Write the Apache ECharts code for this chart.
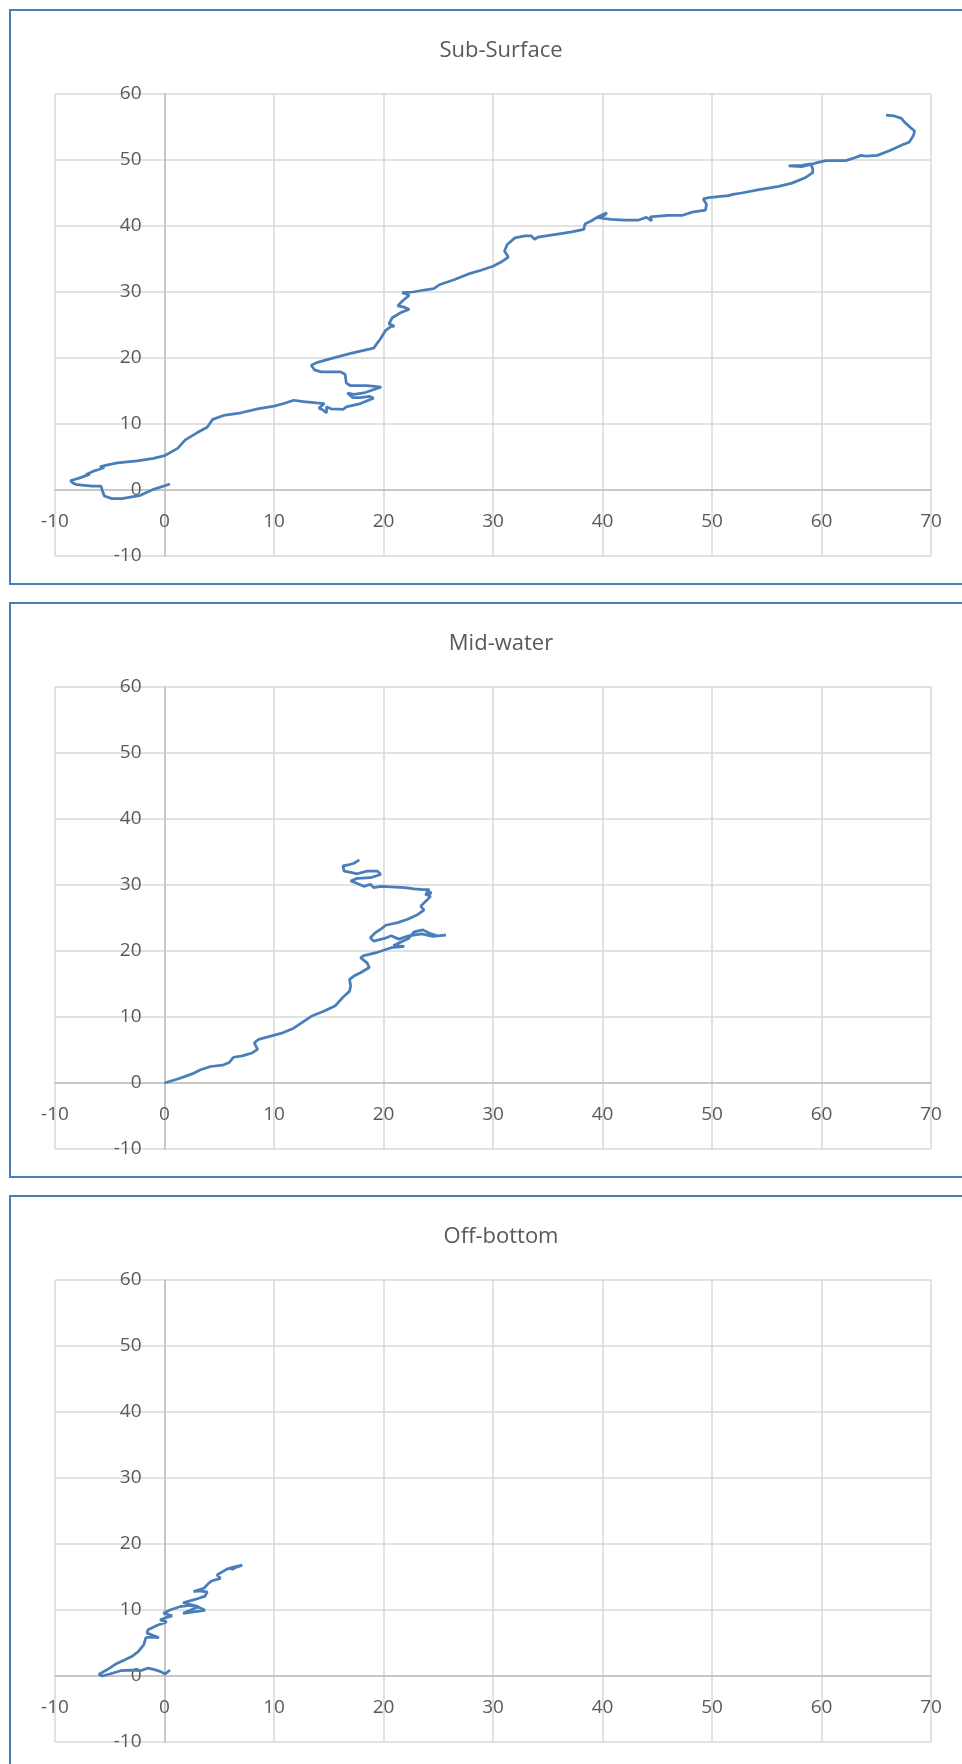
<!DOCTYPE html>
<html>
<head>
<meta charset="utf-8">
<script src="https://cdn.jsdelivr.net/npm/echarts@6/dist/echarts.min.js"></script>
<style>
  html, body { margin: 0; padding: 0; background: #fff; }
  #chart { width: 962px; height: 1764px; }
</style>
</head>
<body>
<div id="chart"></div>
<script>
// panel titles
const titles = ['Sub-Surface', 'Mid-water', 'Off-bottom']

// axis ranges (ticks every 10)
const xMin = -10, xMax = 70
const yMin = -10, yMax = 60
const tickStep = 10

// tracks, [x, y] in drawing order
const subSurface = [
  [0.5, 0.9], [-1, 0.1], [-2.2, -0.8], [-3.9, -1.3], [-4.8, -1.3], [-5.5, -0.9], [-5.7, 0], [-5.8, 0.6],
  [-6.6, 0.6], [-8, 0.8], [-8.3, 1.0], [-8.6, 1.4], [-7.8, 1.8], [-6.8, 2.4], [-7.2, 2.3], [-6.4, 2.9],
  [-6, 3.1], [-5.5, 3.4], [-5.9, 3.5], [-5.2, 3.8], [-4.3, 4.1], [-2.5, 4.4], [-1, 4.8], [0, 5.2],
  [1.2, 6.3], [1.9, 7.6], [3, 8.7], [3.9, 9.5], [4.4, 10.7], [5.4, 11.3], [7, 11.7], [8.5, 12.3],
  [10, 12.7], [10.9, 13.1], [11.8, 13.6], [12.7, 13.4], [13.9, 13.2], [14.6, 13.1], [14.1, 12.4],
  [14.4, 12.2], [14.8, 11.7], [14.8, 12.6], [15.2, 12.3], [16.3, 12.2], [16.6, 12.6], [17.9, 13.1],
  [18.8, 13.7], [19.1, 13.9], [18.7, 14.2], [17.9, 14.0], [17.2, 14.0], [16.7, 14.7], [17.3, 14.5],
  [18.2, 14.7], [19.8, 15.6], [18.5, 15.8], [17, 15.8], [16.6, 16.2], [16.5, 17.5], [16.1, 17.9],
  [15.2, 17.9], [14.3, 17.9], [13.7, 18.2], [13.4, 18.9], [13.9, 19.3], [15.2, 19.9], [17, 20.7],
  [19.1, 21.5], [19.76, 23.0], [20.2, 24.2], [20.7, 24.8], [21.0, 24.8], [20.5, 25.2], [20.8, 26.1],
  [21.6, 26.9], [22.35, 27.4], [21.9, 27.7], [21.3, 27.9], [21.7, 28.6], [22.35, 29.5], [21.9, 29.8],
  [21.7, 29.9], [22.7, 30.0], [23.7, 30.3], [24.6, 30.5], [25.1, 31.1], [26.5, 31.9], [27.7, 32.7],
  [28.9, 33.3], [30, 33.9], [30.7, 34.5], [31.4, 35.3], [31.05, 36.2], [31.3, 37.2], [32, 38.2],
  [32.9, 38.5], [33.5, 38.5], [33.8, 38.0], [34.1, 38.3], [35.6, 38.7], [37.2, 39.1], [38.3, 39.5],
  [38.4, 40.3], [39.0, 40.8], [39.6, 41.4], [40.4, 42.0], [40.1, 41.5], [39.5, 41.3], [40.25, 41.1],
  [40.8, 41.0], [42.0, 40.9], [43.3, 40.9], [44.0, 41.3], [44.5, 40.8], [44.35, 41.4], [46.0, 41.6],
  [47.25, 41.6], [48.2, 42.1], [49.4, 42.4], [49.5, 43.3], [49.2, 44.1], [49.7, 44.3], [51.5, 44.6],
  [51.9, 44.8], [52.7, 45.0], [54.3, 45.5], [56.1, 46.0], [57.3, 46.5], [58.5, 47.3], [59.2, 48.1],
  [59.2, 48.7], [59.0, 49.4], [58.2, 49.2], [57.0, 49.1], [58.2, 49.0], [59.2, 49.4], [59.6, 49.6],
  [60.4, 49.9], [61.3, 49.9], [62.2, 49.9], [62.8, 50.2], [63.6, 50.7], [64.05, 50.6], [65.1, 50.7],
  [66.2, 51.4], [67.4, 52.3], [68.0, 52.7], [68.4, 53.7], [68.5, 54.4], [68.0, 55.1], [67.6, 55.7],
  [67.3, 56.3], [66.6, 56.7], [65.9, 56.8]
]

const midWater = [
  [0, 0], [0.1, 0.1], [1.2, 0.6], [1.9, 1.0], [2.7, 1.5], [3.3, 2.0], [4.2, 2.5], [5.3, 2.7], [5.9, 3.1],
  [6.3, 3.9], [7.1, 4.1], [8.0, 4.55], [8.5, 5.1], [8.2, 6.1], [8.6, 6.6], [9.7, 7.1], [10.8, 7.6],
  [11.8, 8.3], [13.4, 10.1], [14.6, 10.9], [15.6, 11.7], [16.25, 12.9], [16.9, 13.9], [17.0, 14.7],
  [16.9, 15.7], [17.3, 16.2], [17.9, 16.7], [18.7, 17.5], [18.5, 18.2], [17.9, 19.0], [18.2, 19.3],
  [19.45, 19.8], [20.7, 20.5], [21.9, 20.7], [20.9, 20.8], [21.5, 21.3], [22.3, 21.9], [22.8, 22.9],
  [23.6, 23.2], [24.2, 22.7], [24.9, 22.3], [25.7, 22.4], [24.5, 22.2], [23.5, 22.6], [22.3, 22.3],
  [21.4, 21.8], [20.7, 22.3], [20.1, 21.9], [19.1, 21.5], [18.8, 22.0], [19.2, 22.7], [19.75, 23.3],
  [20.2, 23.9], [21.3, 24.3], [22.2, 24.8], [23.1, 25.5], [23.7, 26.2], [23.4, 26.8], [23.9, 27.6],
  [24.3, 28.3], [23.8, 28.6], [24.4, 28.8], [23.9, 29.0], [24.2, 29.3], [23.6, 29.3], [22.8, 29.4],
  [21.9, 29.6], [20.7, 29.7], [19.75, 29.8], [19.1, 29.6], [18.8, 30.1], [18.2, 29.8], [17.5, 30.3],
  [17.0, 30.6], [17.6, 31.0], [18.8, 31.1], [19.75, 31.6], [19.45, 32.1], [18.5, 32.1], [17.6, 31.7],
  [17.0, 31.9], [16.4, 32.1], [16.3, 32.9], [16.9, 33.1], [17.3, 33.3], [17.8, 33.8]
]

const offBottom = [
  [0.5, 0.9], [0.06, 0.3], [-0.4, 0.7], [-1.0, 1.0], [-1.5, 1.2], [-2.2, 0.8], [-3.1, 0.9], [-4.0, 0.8],
  [-5.0, 0.3], [-5.7, 0], [-6.0, 0.25], [-5.3, 0.9], [-4.35, 1.9], [-3.7, 2.4], [-3.0, 2.95], [-2.4, 3.7],
  [-1.9, 4.7], [-1.7, 5.8], [-1.2, 5.9], [-0.5, 5.8], [-1.6, 6.5], [-1.5, 7.0], [-0.7, 7.65], [0.2, 8.2],
  [-0.4, 8.5], [-0.5, 8.7], [0.06, 8.8], [0.7, 9.1], [-0.1, 9.5], [0.5, 10.0], [1.4, 10.5], [2.3, 10.7],
  [3.1, 10.4], [3.7, 9.95], [2.65, 9.7], [1.7, 9.5], [3.1, 10.5], [1.7, 11.1], [2.8, 11.6], [3.7, 12.1],
  [3.9, 12.75], [3.1, 12.9], [2.65, 12.8], [3.6, 13.3], [4.0, 14.0], [4.3, 14.4], [5.1, 14.8], [4.8, 15.3],
  [5.2, 15.7], [5.7, 16.2], [6.3, 16.5], [7.1, 16.8], [6.6, 16.5], [6.1, 16.1]
]

const tracks = [subSurface, midWater, offBottom]

const panelStep = 593
const gridLeft = 55, gridRight = 31, gridTop = 94, gridHeight = 462
const gridWidth = 962 - gridLeft - gridRight
const gridColor = '#d9d9d9'
const textColor = '#595959'
const lineColor = '#4a7ebb'
const font = '"Open Sans", "Noto Sans", sans-serif'

// axes cross at zero: shift them in from the grid edges
const xAxisShift = -((0 - yMin) / (yMax - yMin)) * gridHeight
const yAxisShift = -((0 - xMin) / (xMax - xMin)) * gridWidth

const chart = echarts.init(document.getElementById('chart'))

const option = {
  animation: false,
  backgroundColor: '#fff',
  title: titles.map((t, i) => ({
    text: t,
    left: 496,
    top: 35 + i * panelStep,
    textAlign: 'center',
    textStyle: { color: textColor, fontSize: 22, fontWeight: 'normal', fontFamily: font },
  })),
  graphic: titles.map((t, i) => ({
    type: 'rect',
    shape: { x: 10, y: 10 + i * panelStep, width: 1000, height: 574 },
    style: { fill: 'none', stroke: lineColor, lineWidth: 2 },
    silent: true,
    z: -1,
  })),
  grid: titles.map((t, i) => ({
    left: gridLeft,
    right: gridRight,
    top: gridTop + i * panelStep,
    height: gridHeight,
  })),
  xAxis: titles.map((t, i) => ({
    type: 'value',
    gridIndex: i,
    min: xMin,
    max: xMax,
    interval: tickStep,
    offset: xAxisShift,
    axisLine: { onZero: false, lineStyle: { color: '#bfbfbf', width: 1.5 } },
    axisTick: { show: false },
    axisLabel: { margin: 22, color: textColor, fontSize: 19, fontFamily: font },
    splitLine: { lineStyle: { color: gridColor, width: 1.5 } },
  })),
  yAxis: titles.map((t, i) => ({
    type: 'value',
    gridIndex: i,
    min: yMin,
    max: yMax,
    interval: tickStep,
    offset: yAxisShift,
    axisLine: { onZero: false, lineStyle: { color: '#bfbfbf', width: 1.5 } },
    axisTick: { show: false },
    axisLabel: { margin: 23, color: textColor, fontSize: 19, fontFamily: font },
    splitLine: { lineStyle: { color: gridColor, width: 1.5 } },
  })),
  series: tracks.map((d, i) => ({
    type: 'line',
    xAxisIndex: i,
    yAxisIndex: i,
    data: d,
    showSymbol: false,
    symbol: 'none',
    smooth: false,
    lineStyle: { color: lineColor, width: 2.75 },
  })),
}

chart.setOption(option)
</script>
</body>
</html>
